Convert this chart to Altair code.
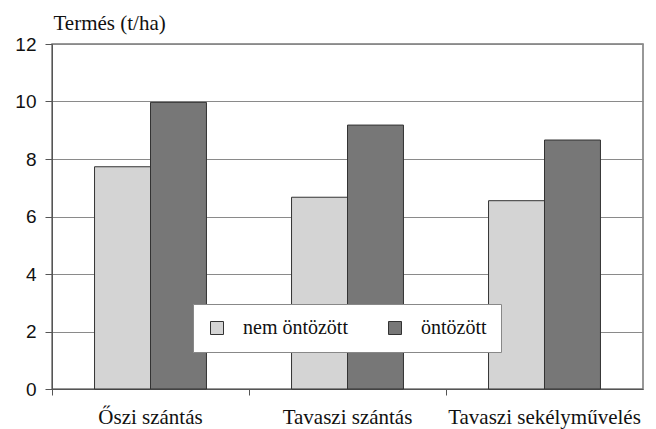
import altair as alt
import pandas as pd

categories = ["Őszi szántás", "Tavaszi szántás", "Tavaszi sekélyművelés"]
series = ["nem öntözött", "öntözött"]
nem_ontozott = [7.73, 6.67, 6.55]
ontozott = [9.97, 9.18, 8.66]

rows = []
for c, a, b in zip(categories, nem_ontozott, ontozott):
    rows.append({"kat": c, "sor": series[0], "ertek": a})
    rows.append({"kat": c, "sor": series[1], "ertek": b})
df = pd.DataFrame(rows)

SERIF = "Liberation Serif"
SANS = "Liberation Sans"

chart = alt.Chart(df).mark_bar(stroke="#333333", strokeWidth=1).encode(
    x=alt.X("kat:N", sort=categories,
            scale=alt.Scale(paddingInner=0, paddingOuter=0),
            axis=alt.Axis(title=None, labelAngle=0, bandPosition=0, grid=False,
                          domainColor="#555555", tickColor="#555555", tickSize=6,
                          labelPadding=11, labelFont=SERIF, labelFontSize=21,
                          labelLimit=400, labelColor="#111111")),
    xOffset=alt.XOffset("sor:N", sort=series,
                        scale=alt.Scale(paddingOuter=0.76, paddingInner=0)),
    y=alt.Y("ertek:Q", scale=alt.Scale(domain=[0, 12]),
            axis=alt.Axis(values=[0, 2, 4, 6, 8, 10, 12], grid=True,
                          gridColor="#8a8a8a", gridWidth=1,
                          domainColor="#555555", tickColor="#555555", tickSize=7,
                          labelFont=SANS, labelFontSize=19, labelPadding=9,
                          labelColor="#111111",
                          title="Termés (t/ha)", titleAngle=0, titleAlign="left",
                          titleBaseline="alphabetic", titleX=1, titleY=-15,
                          titleFont=SERIF, titleFontSize=21, titleFontWeight="normal",
                          titleColor="#111111")),
    color=alt.Color("sor:N", sort=series,
                    scale=alt.Scale(domain=series, range=["#d4d4d4", "#777777"]),
                    legend=alt.Legend(title=None, orient="none", legendX=141, legendY=260,
                                      direction="horizontal", fillColor="white",
                                      strokeColor="#888888", padding=14,
                                      symbolType="square", symbolSize=169,
                                      symbolStrokeColor="#333333", symbolStrokeWidth=1,
                                      symbolOpacity=1, labelFont=SERIF, labelFontSize=20,
                                      labelColor="#111111", labelOffset=16,
                                      columnPadding=37)),
).properties(
    width=591, height=345,
    autosize=alt.AutoSizeParams(type="none"),
    padding={"left": 44, "top": 36, "right": 5, "bottom": 40},
).configure_view(stroke="#777777", strokeWidth=1.5)

chart.save("out.html", embed_options={"renderer": "svg", "actions": False})
